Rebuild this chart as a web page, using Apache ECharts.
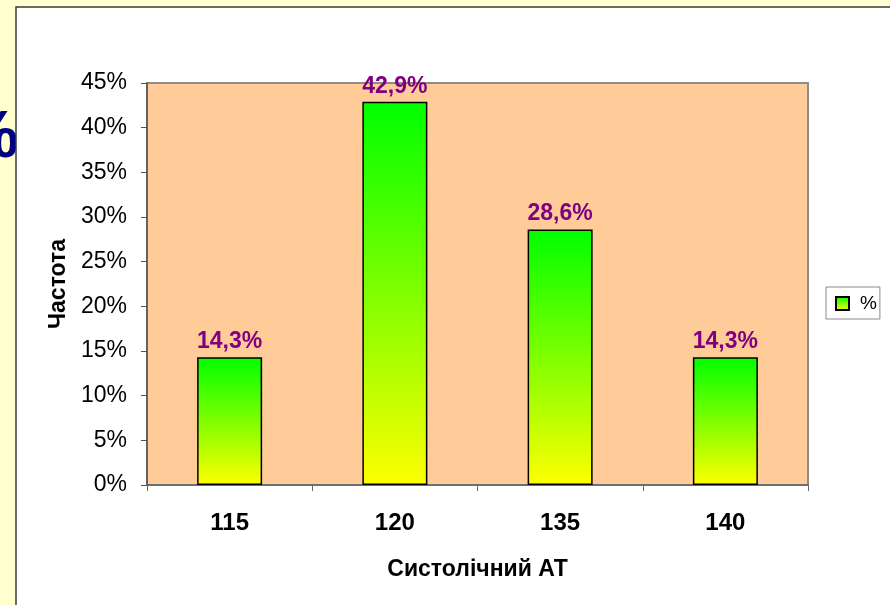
<!DOCTYPE html>
<html>
<head>
<meta charset="utf-8">
<script src="https://cdn.jsdelivr.net/npm/echarts@6/dist/echarts.min.js"></script>
<style>
  html, body { margin: 0; padding: 0; background: #FFFFD0; }
  #chart { width: 890px; height: 605px; }
</style>
</head>
<body>
<div id="chart"></div>
<script>
// Systolic blood pressure frequency distribution
const categories = ['115', '120', '135', '140'];
const percentValues = [14.3, 42.9, 28.6, 14.3];
const yTicks = { min: 0, max: 45, interval: 5 };

const chart = echarts.init(document.getElementById('chart'), null, { renderer: 'canvas' });

const barFill = new echarts.graphic.LinearGradient(0, 0, 0, 1, [
  { offset: 0, color: '#00FF00' },
  { offset: 1, color: '#FFFF00' }
]);

const font = '"Liberation Sans", Arial, sans-serif';

chart.setOption({
  backgroundColor: '#FFFFD0',
  animation: false,
  graphic: [
    {
      type: 'text',
      z: -20,
      left: -40,
      top: 106,
      style: {
        text: '%',
        fontSize: 66,
        fontWeight: 'bold',
        fontFamily: font,
        fill: '#000080'
      }
    },
    {
      type: 'rect',
      z: -10,
      shape: { x: 16, y: 7, width: 880, height: 610 },
      style: { fill: '#FFFFFF', stroke: '#3a3a3a', lineWidth: 1.5 }
    }
  ],
  grid: {
    left: 147,
    right: 82,
    top: 83,
    bottom: 120,
    show: true,
    backgroundColor: '#FFCC99',
    borderColor: '#8c8c8c',
    borderWidth: 2
  },
  legend: {
    left: 826,
    top: 287,
    orient: 'vertical',
    backgroundColor: '#FFFFFF',
    borderColor: '#8a8a8a',
    borderWidth: 1,
    padding: [7, 3, 6, 9],
    itemWidth: 13,
    itemHeight: 13,
    icon: 'rect',
    textStyle: { fontFamily: font, fontSize: 19, color: '#000', padding: [0, 0, 0, 6] },
    data: ['%']
  },
  xAxis: {
    type: 'category',
    data: categories,
    name: 'Систолічний АТ',
    nameLocation: 'middle',
    nameGap: 73,
    nameTextStyle: { fontFamily: font, fontSize: 23, fontWeight: 'bold', color: '#000' },
    axisLine: { lineStyle: { color: '#666', width: 1.5 } },
    axisTick: { show: true, length: 6, lineStyle: { color: '#666' } },
    axisLabel: { fontFamily: font, fontSize: 24, fontWeight: 'bold', color: '#000', margin: 26 }
  },
  yAxis: {
    type: 'value',
    min: yTicks.min,
    max: yTicks.max,
    interval: yTicks.interval,
    name: 'Частота',
    nameLocation: 'middle',
    nameGap: 76,
    nameRotate: 90,
    nameTextStyle: { fontFamily: font, fontSize: 23, fontWeight: 'bold', color: '#000' },
    splitLine: { show: false },
    axisLine: { show: true, lineStyle: { color: '#555', width: 1.5 } },
    axisTick: { show: true, length: 6, lineStyle: { color: '#555' } },
    axisLabel: {
      fontFamily: font,
      fontSize: 23,
      color: '#000',
      margin: 20,
      padding: [4, 0, 0, 0],
      formatter: '{value}%'
    }
  },
  series: [
    {
      name: '%',
      type: 'bar',
      data: percentValues,
      barWidth: 65,
      itemStyle: { color: barFill, borderColor: '#000', borderWidth: 1.5 },
      label: {
        show: true,
        position: 'top',
        distance: 4,
        fontFamily: font,
        fontSize: 23,
        fontWeight: 'bold',
        color: '#800080',
        formatter: p => String(p.value).replace('.', ',') + '%'
      }
    }
  ]
});
</script>
</body>
</html>
